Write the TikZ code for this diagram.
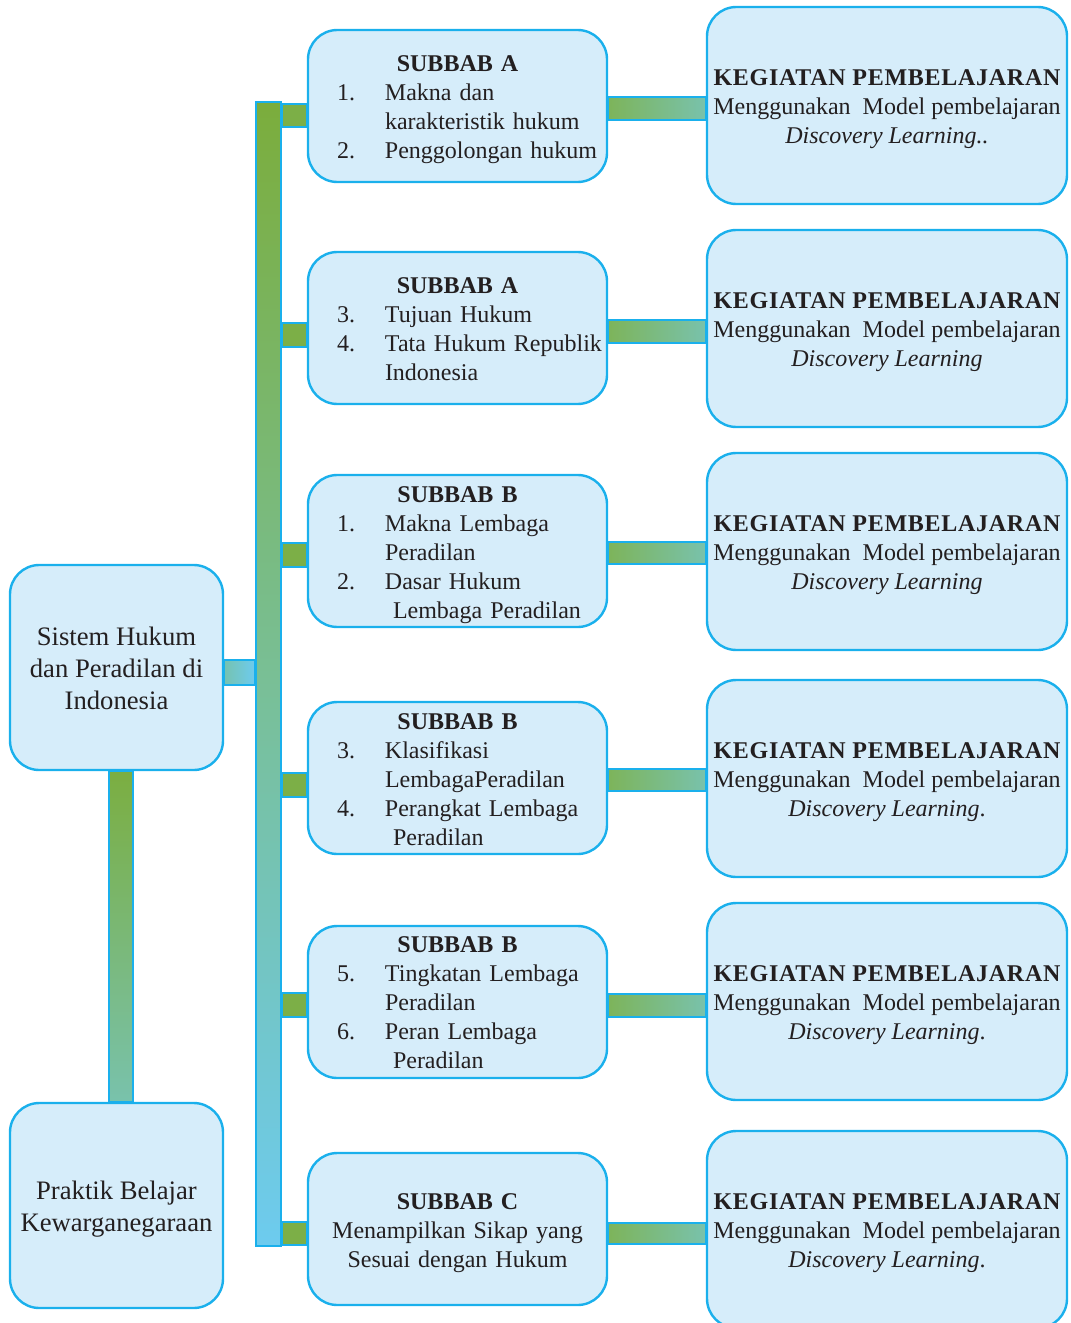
\documentclass[tikz,border=0pt]{standalone}
\usepackage{fontspec}
\setmainfont{Liberation Serif}
\definecolor{boxfill}{HTML}{D6EDFA}
\definecolor{boxline}{HTML}{1AB0EC}
\definecolor{txt}{HTML}{231F20}
\definecolor{grn}{HTML}{7BAD3C}
\definecolor{brgrn}{HTML}{7CAF47}
\definecolor{midg}{HTML}{79BF95}
\definecolor{cyn}{HTML}{6DCBEF}
\definecolor{cg}{HTML}{7DB45A}
\definecolor{ct}{HTML}{79C2AC}
\newcommand\numln[2]{\hspace*{21.75pt}\makebox[36pt][l]{#1}#2}
\newcommand\contln[1]{\hspace*{57.75pt}#1}
\newcommand\contlnb[1]{\hspace*{63.75pt}#1}
\newcommand\subhead[1]{\makebox[224.25pt][c]{\bfseries #1}}
\newcommand\kghead{{\bfseries\addfontfeature{LetterSpace=3}KEGIATAN PEMBELAJARAN}}
% box + text: name, position, text shift (px, downward), style prefix, content
\newcommand\tbox[5]{\node[#4box] (#1) at (#2) {};
  \node[#4text,yshift=-0.75pt*#3] (#1t) at (#1) {#5};}
\begin{document}
\begin{tikzpicture}[x=0.75pt,y=-0.75pt,
  box/.style={draw=boxline,fill=boxfill,line width=1.8pt,rounded corners=22pt},
  leftbox/.style={box,minimum width=159.75pt,minimum height=153.75pt},
  lefttext/.style={text=txt,align=center,inner sep=0pt,font=\fontsize{20}{24}\selectfont},
  midbox/.style={box,minimum width=224.25pt,minimum height=114pt},
  midtext/.style={text=txt,inner sep=0pt,text width=224.25pt,align=left,font=\fontsize{18}{21.75}\selectfont},
  midctext/.style={midtext,align=center},
  rightbox/.style={box,minimum width=270pt,minimum height=147.75pt},
  righttext/.style={text=txt,align=center,inner sep=0pt,font=\fontsize{18}{21.75}\selectfont},
  conn/.style={draw=boxline,line width=1.5pt},
  branch/.style={conn,fill=brgrn},
  hconn/.style={conn,left color=cg,right color=ct},
]
\useasboundingbox (0,0) rectangle (1070,1323);
% main vertical bar
\node[conn,top color=grn,bottom color=cyn,middle color=midg,minimum width=18.75pt,minimum height=858pt,inner sep=0pt] (bar) at (268.5,674) {};
% left boxes
\tbox{l1}{116.5,667.5}{1}{left}{Sistem Hukum\\dan Peradilan di\\Indonesia}
\tbox{l2}{116.5,1205.5}{4}{left}{Praktik Belajar\\Kewarganegaraan}
% connectors from left boxes
\draw[conn,left color=midg!70!cyn,right color=cyn] (l1.east |- 0,660) rectangle (bar.west |- 0,685);
\draw[conn,top color=grn!95!midg,bottom color=ct] (109,0 |- l1.south) rectangle (133,0 |- l2.north);
% middle boxes
\tbox{m1}{457.5,106}{4}{mid}{\subhead{SUBBAB A}\\\numln{1.}{Makna dan}\\\contln{karakteristik hukum}\\\numln{2.}{Penggolongan hukum}}
\tbox{m2}{457.5,328}{1}{mid}{\subhead{SUBBAB A}\\\numln{3.}{Tujuan Hukum}\\\numln{4.}{Tata Hukum Republik}\\\contln{Indonesia}}
\tbox{m3}{457.5,551}{4}{mid}{\subhead{SUBBAB B}\\\numln{1.}{Makna Lembaga}\\\contln{Peradilan}\\\numln{2.}{Dasar Hukum}\\\contlnb{Lembaga Peradilan}}
\tbox{m4}{457.5,778}{2}{mid}{\subhead{SUBBAB B}\\\numln{3.}{Klasifikasi}\\\contln{LembagaPeradilan}\\\numln{4.}{Perangkat Lembaga}\\\contlnb{Peradilan}}
\tbox{m5}{457.5,1002}{1}{mid}{\subhead{SUBBAB B}\\\numln{5.}{Tingkatan Lembaga}\\\contln{Peradilan}\\\numln{6.}{Peran Lembaga}\\\contlnb{Peradilan}}
\node[midbox] (m6) at (457.5,1229) {};
\node[midctext,yshift=-3pt] (m6t) at (m6) {\textbf{SUBBAB C}\\Menampilkan Sikap yang\\Sesuai dengan Hukum};
% right boxes
\tbox{k1}{887,105.5}{4}{right}{\kghead\\Menggunakan\ \ Model pembelajaran\\\textit{Discovery Learning..}}
\tbox{k2}{887,328.5}{4}{right}{\kghead\\Menggunakan\ \ Model pembelajaran\\\textit{Discovery Learning}}
\tbox{k3}{887,551.5}{4}{right}{\kghead\\Menggunakan\ \ Model pembelajaran\\\textit{Discovery Learning}}
\tbox{k4}{887,778.5}{4}{right}{\kghead\\Menggunakan\ \ Model pembelajaran\\\textit{Discovery Learning}.}
\tbox{k5}{887,1001.5}{4}{right}{\kghead\\Menggunakan\ \ Model pembelajaran\\\textit{Discovery Learning}.}
\tbox{k6}{887,1229.5}{4}{right}{\kghead\\Menggunakan\ \ Model pembelajaran\\\textit{Discovery Learning}.}
% branches from bar to middle boxes
\draw[branch] (bar.east |- 0,104) rectangle (m1.west |- 0,127);
\draw[branch] (bar.east |- 0,323) rectangle (m2.west |- 0,347);
\draw[branch] (bar.east |- 0,543) rectangle (m3.west |- 0,567);
\draw[branch] (bar.east |- 0,773) rectangle (m4.west |- 0,797);
\draw[branch] (bar.east |- 0,993) rectangle (m5.west |- 0,1017);
\draw[branch] (bar.east |- 0,1222) rectangle (m6.west |- 0,1245);
% middle to right connectors
\draw[hconn] (m1.east |- 0,97) rectangle (k1.west |- 0,120);
\draw[hconn] (m2.east |- 0,320) rectangle (k2.west |- 0,343);
\draw[hconn] (m3.east |- 0,542) rectangle (k3.west |- 0,564);
\draw[hconn] (m4.east |- 0,769) rectangle (k4.west |- 0,791);
\draw[hconn] (m5.east |- 0,994) rectangle (k5.west |- 0,1017);
\draw[hconn] (m6.east |- 0,1223) rectangle (k6.west |- 0,1244);
\end{tikzpicture}
\end{document}
